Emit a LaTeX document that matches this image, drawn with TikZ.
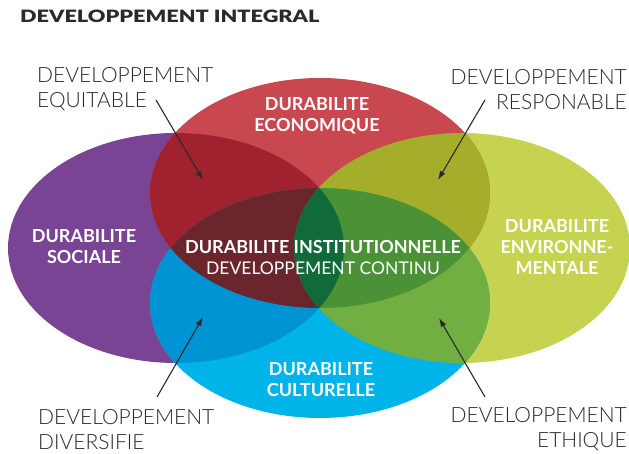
\documentclass[tikz,border=0pt]{standalone}
\usepackage{graphicx}
\usepackage{fontspec}
\setmainfont{Lato}
\newfontfamily\lightfont{Lato Light}
\newfontfamily\heavyfont{Lato Black}
\usetikzlibrary{arrows.meta}
\definecolor{cPur}{HTML}{7A4494}
\definecolor{cRed}{HTML}{C9474F}
\definecolor{cYg}{HTML}{C6D350}
\definecolor{cBlu}{HTML}{00B3E8}
\definecolor{cCrim}{HTML}{A0222F}
\definecolor{cOlive}{HTML}{A5AE2A}
\definecolor{cMedBlu}{HTML}{0093D3}
\definecolor{cGreen}{HTML}{72AF43}
\definecolor{cMaroon}{HTML}{6B252C}
\definecolor{cGreenTwo}{HTML}{4A9235}
\definecolor{cLens}{HTML}{106A3A}
\definecolor{cInk}{HTML}{2A2A2A}
\def\ePur{(176,248) ellipse [x radius=168pt, y radius=115pt]}
\def\eYg{(462,248) ellipse [x radius=168pt, y radius=115pt]}
\def\eRed{(320,193) ellipse [x radius=170pt, y radius=115pt]}
\def\eBlu{(320,303) ellipse [x radius=170pt, y radius=115pt]}
\begin{document}
\begin{tikzpicture}[x=1pt,y=-1pt,
  graylbl/.style={inner sep=0pt,text=cInk,font=\lightfont\fontsize{21}{25}\selectfont},
  whitelbl/.style={inner sep=0pt,text=white,align=center,font=\fontsize{18}{21}\selectfont\bfseries},
  arr/.style={draw=cInk,line width=1.1pt,-{Latex[length=9pt,width=6pt]}}]
\useasboundingbox (0,0) rectangle (629,454);
\fill[white] (0,0) rectangle (629,454);
% base ellipses
\fill[cPur] \ePur;
\fill[cYg] \eYg;
\fill[cRed] \eRed;
\fill[cBlu] \eBlu;
% pairwise overlaps
\begin{scope}\clip \ePur; \fill[cCrim] \eRed; \end{scope}
\begin{scope}\clip \eYg; \fill[cOlive] \eRed; \end{scope}
\begin{scope}\clip \ePur; \fill[cMedBlu] \eBlu; \end{scope}
\begin{scope}\clip \eYg; \fill[cGreen] \eBlu; \end{scope}
% centre
\begin{scope}\clip \eRed; \clip \eBlu; \fill[cMaroon] \ePur; \end{scope}
\begin{scope}\clip \eRed; \clip \eBlu; \fill[cGreenTwo] \eYg; \end{scope}
\begin{scope}\clip \eRed; \clip \eBlu; \clip \ePur; \fill[cLens] \eYg; \end{scope}
% title
\node[inner sep=0pt,anchor=west,text=cInk,font=\heavyfont\fontsize{17}{20}\selectfont] (title) at (20,16) {\scalebox{1.275}[1]{DEVELOPPEMENT INTEGRAL}};
% white labels
\node[whitelbl] (eco) at (317,115.5) {DURABILITE\\ECONOMIQUE};
\node[whitelbl] (soc) at (84,247) {DURABILITE\\SOCIALE};
\node[whitelbl] (env) at (557,247) {DURABILITE\\ENVIRONNE-\\MENTALE};
\node[whitelbl] (cul) at (321,380) {DURABILITE\\CULTURELLE};
\node[whitelbl] (inst) at (323,257.5) {DURABILITE INSTITUTIONNELLE\\{\fontsize{17.5}{21}\selectfont\mdseries DEVELOPPEMENT CONTINU}};
% gray labels
\node[graylbl,align=left,anchor=west] (equ) at (37,89.5) {DEVELOPPEMENT\\EQUITABLE};
\node[graylbl,align=right,anchor=east] (resp) at (627,89.5) {DEVELOPPEMENT\\RESPONABLE};
\node[graylbl,align=left,anchor=west] (div) at (38,429.5) {DEVELOPPEMENT\\DIVERSIFIE};
\node[graylbl,align=right,anchor=east] (eth) at (627,429.5) {DEVELOPPEMENT\\ETHIQUE};
% arrows
\coordinate (equS) at (156,100); \coordinate (equT) at (203,180);
\coordinate (respS) at (485,100); \coordinate (respT) at (438,180);
\coordinate (divS) at (157,397); \coordinate (divT) at (203,317);
\coordinate (ethS) at (485,397); \coordinate (ethT) at (439,318);
\draw[arr] (equS) -- (equT);
\draw[arr] (respS) -- (respT);
\draw[arr] (divS) -- (divT);
\draw[arr] (ethS) -- (ethT);
\end{tikzpicture}
\end{document}
